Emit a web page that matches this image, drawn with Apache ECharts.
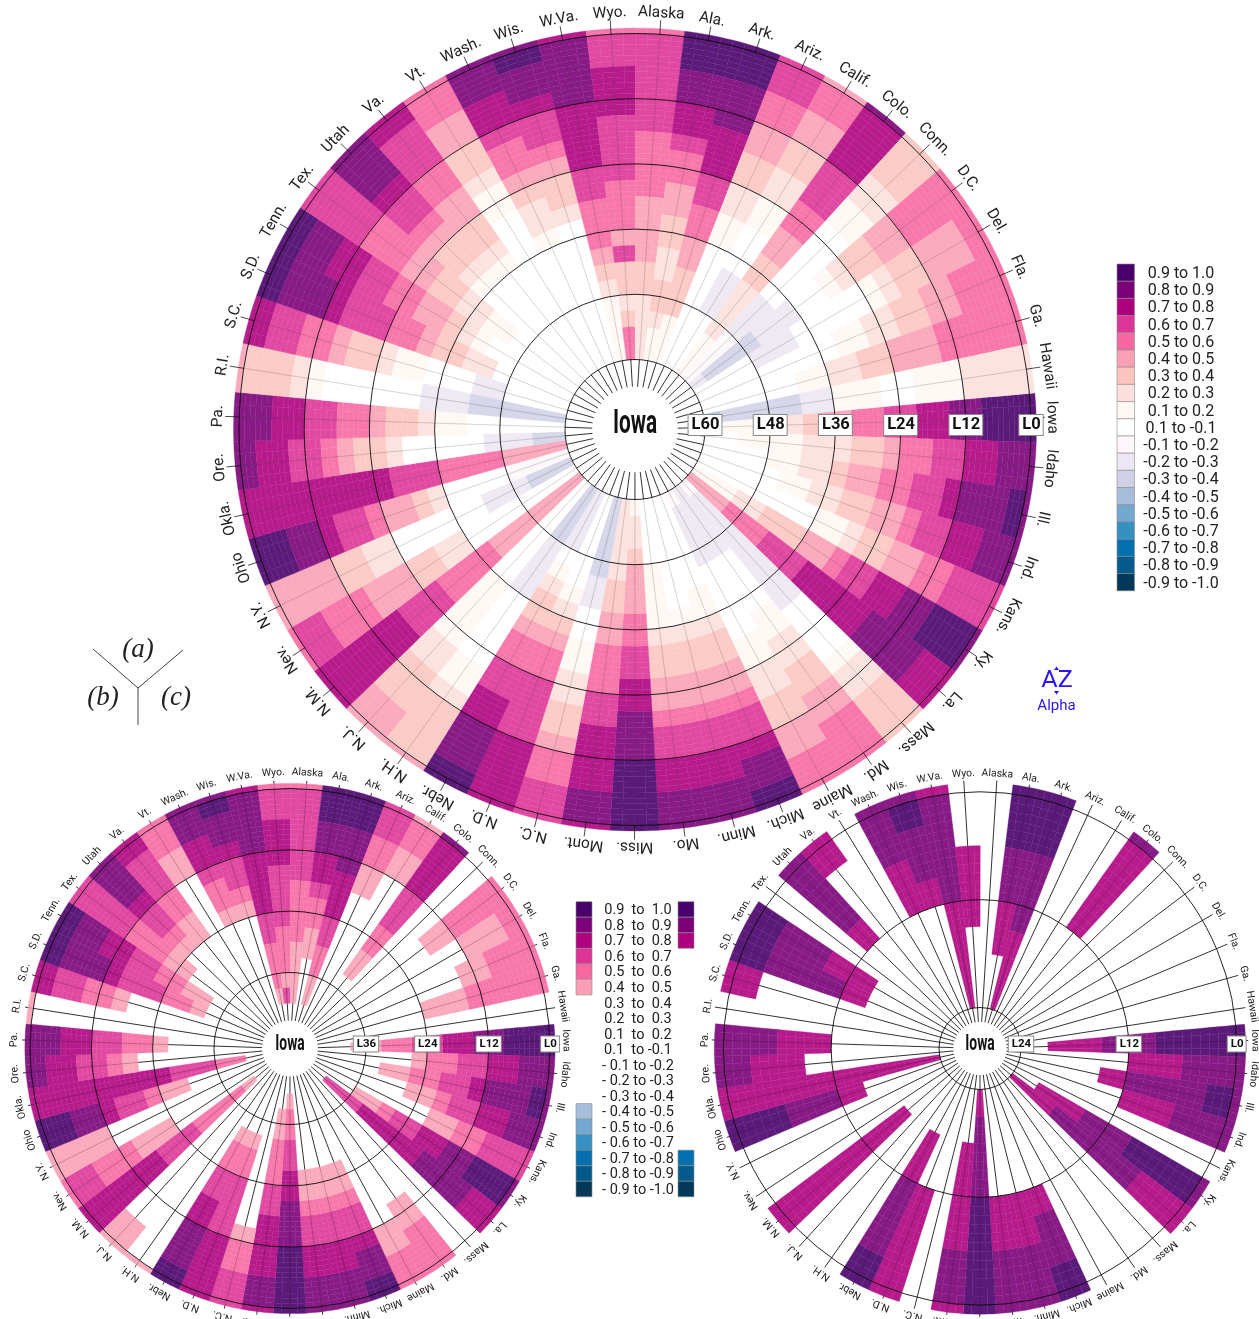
<!DOCTYPE html>
<html>
<head>
<meta charset="utf-8">
<title>Iowa</title>
<script src="https://cdn.jsdelivr.net/npm/echarts@6/dist/echarts.min.js"></script>
<style>
html, body { margin: 0; padding: 0; background: #fff; }
#chart { width: 1259px; height: 1319px; }
</style>
</head>
<body>
<div id="chart"></div>
<script>
const stateNames = ['Iowa', 'Idaho', 'Ill.', 'Ind.', 'Kans.', 'Ky.', 'La.', 'Mass.', 'Md.', 'Maine', 'Mich.', 'Minn.', 'Mo.',
  'Miss.', 'Mont.', 'N.C.', 'N.D.', 'Nebr.', 'N.H.', 'N.J.', 'N.M.', 'Nev.', 'N.Y.', 'Ohio', 'Okla.', 'Ore.', 'Pa.', 'R.I.',
  'S.C.', 'S.D.', 'Tenn.', 'Tex.', 'Utah', 'Va.', 'Vt.', 'Wash.', 'Wis.', 'W.Va.', 'Wyo.', 'Alaska', 'Ala.', 'Ark.', 'Ariz.',
  'Calif.', 'Colo.', 'Conn.', 'D.C.', 'Del.', 'Fla.', 'Ga.', 'Hawaii']

// first value is lag 0, then one value per 3 lags out to L60
const lagCorr = [
  [.95, .95, .95, .95, .85, .85, .75, .75, .65, .65, .55, .55, .45, .45, .35, .25, .15, .15, .15, .15, .15], // Iowa
  [.85, .85, .85, .75, .75, .65, .65, .55, .55, .45, .35, .35, .25, .25, .25, .15, .15, .15, .15, .05, .05], // Idaho
  [.85, .95, .85, .85, .85, .75, .65, .65, .55, .55, .45, .45, .35, .25, .25, .15, .15, .05, .05, .05, .05], // Ill.
  [.85, .85, .85, .75, .75, .65, .65, .55, .45, .45, .35, .35, .25, .25, .15, .15, .05, .05, .05, .05, .05], // Ind.
  [.65, .65, .65, .65, .55, .55, .45, .45, .35, .35, .25, .15, .15, .05, .05, .05, .05, .05, .05, .05, .05], // Kans.
  [.85, .95, .95, .95, .85, .85, .75, .75, .65, .65, .55, .45, .45, .35, .35, .35, .25, .25, .15, .15, .15], // Ky.
  [.75, .75, .75, .85, .85, .85, .85, .75, .75, .75, .75, .75, .65, .65, .65, .55, .55, .55, .45, .45, .45], // La.
  [.35, .35, .35, .35, .25, .25, .15, .05, .05, .05, .05, -.25, -.25, -.25, -.25, -.25, -.25, -.25, -.25, -.25, -.15], // Mass.
  [.55, .55, .55, .55, .45, .45, .35, .35, .25, .25, .15, .15, .05, .05, .05, .05, -.25, -.25, -.25, -.25, -.25], // Md.
  [.55, .55, .55, .45, .45, .35, .35, .25, .25, .15, .15, .05, .05, .05, .05, .05, -.25, -.25, -.25, -.25, -.15], // Maine
  [.95, .95, .85, .85, .75, .65, .65, .55, .45, .45, .35, .35, .25, .15, .15, .05, .05, .05, .05, .05, .05], // Mich.
  [.85, .85, .85, .75, .75, .65, .65, .55, .45, .45, .35, .35, .25, .15, .05, .05, .05, .05, .05, .05, .05], // Minn.
  [.85, .85, .85, .75, .75, .65, .65, .55, .45, .45, .35, .35, .25, .15, .15, .15, .15, .05, .05, .05, .05], // Mo.
  [.95, .95, .95, .95, .95, .85, .85, .85, .75, .75, .65, .65, .55, .55, .45, .45, .45, .35, .25, .25, .15], // Miss.
  [.75, .85, .85, .75, .75, .75, .75, .65, .65, .55, .55, .55, .45, .45, .35, .35, .25, .25, .25, .25, .25], // Mont.
  [.65, .65, .65, .55, .55, .45, .35, .35, .25, .25, .15, .15, .05, .05, -.25, -.25, -.35, -.35, -.35, -.35, -.35], // N.C.
  [.75, .75, .75, .75, .75, .65, .65, .65, .65, .55, .55, .45, .35, .25, .15, .05, .05, .05, .05, .05, .05], // N.D.
  [.95, .95, .85, .85, .85, .75, .75, .65, .65, .55, .55, .45, .35, .35, .25, .15, .05, -.25, -.25, -.25, -.25], // Nebr.
  [.45, .35, .35, .35, .35, .25, .15, .15, .05, .05, .05, .05, .05, -.25, -.25, -.25, -.25, -.35, -.35, -.35, -.35], // N.H.
  [.45, .45, .45, .35, .35, .35, .25, .25, .15, .15, .15, .15, .15, .05, .05, .05, .05, .05, .05, .05, .05], // N.J.
  [.75, .75, .75, .75, .75, .75, .75, .65, .65, .65, .55, .55, .55, .55, .45, .45, .45, .45, .45, .45, .45], // N.M.
  [.55, .65, .65, .55, .55, .55, .45, .45, .45, .35, .35, .25, .25, .05, .05, .05, .05, .05, .05, .05, .05], // Nev.
  [.45, .45, .45, .45, .45, .35, .35, .25, .25, .05, .05, .05, .05, .05, .05, -.25, -.25, -.25, -.35, -.35, -.35], // N.Y.
  [.95, .95, .95, .85, .85, .75, .65, .65, .55, .45, .45, .35, .25, .05, .05, .05, .05, -.15, -.15, -.15, -.15], // Ohio
  [.75, .75, .75, .75, .75, .75, .75, .75, .75, .75, .65, .65, .65, .55, .55, .55, .55, .45, .45, .45, .45], // Okla.
  [.85, .85, .75, .75, .65, .65, .55, .45, .35, .35, .25, .05, .05, .05, .05, .05, -.25, -.25, -.25, -.35, -.35], // Ore.
  [.85, .85, .85, .75, .75, .65, .65, .55, .55, .45, .35, .35, .25, .15, .15, .05, .05, .05, .05, .05, .05], // Pa.
  [.45, .35, .35, .35, .25, .15, .05, .05, .05, .05, .05, .05, -.25, -.25, -.25, -.35, -.35, -.35, -.35, -.35, -.35], // R.I.
  [.75, .75, .65, .65, .55, .55, .45, .35, .35, .25, .15, .15, .05, .05, .05, -.25, -.25, .05, .05, .05, .05], // S.C.
  [.95, .95, .85, .85, .85, .75, .65, .65, .65, .55, .55, .45, .35, .35, .25, .25, .05, .05, .05, .05, .05], // S.D.
  [.95, .95, .85, .85, .75, .75, .65, .65, .55, .55, .45, .45, .35, .25, .15, .05, .05, .05, .05, .05, .05], // Tenn.
  [.65, .65, .65, .65, .65, .55, .55, .55, .45, .45, .35, .35, .25, .25, .15, .15, .05, .05, .05, .05, .05], // Tex.
  [.85, .85, .85, .85, .75, .65, .65, .55, .45, .35, .35, .25, .15, .05, .05, .05, .05, .05, .05, .05, .05], // Utah
  [.75, .75, .65, .65, .65, .55, .55, .45, .45, .35, .35, .25, .15, .05, .05, .05, .05, .05, .05, .05, .05], // Va.
  [.55, .55, .55, .45, .45, .35, .35, .25, .15, .15, .05, .05, .05, .05, .05, .05, .05, .05, .05, .05, .05], // Vt.
  [.85, .85, .85, .75, .75, .65, .55, .55, .45, .35, .25, .25, .15, .05, .05, .05, .05, .05, .05, .05, .05], // Wash.
  [.85, .95, .85, .85, .75, .65, .65, .55, .45, .35, .35, .25, .05, .05, .05, .05, .05, .05, .05, .05, .05], // Wis.
  [.75, .85, .85, .85, .85, .75, .75, .75, .75, .65, .65, .55, .55, .55, .45, .35, .25, .15, .15, .15, .15], // W.Va.
  [.55, .65, .65, .75, .75, .75, .65, .65, .65, .65, .55, .55, .55, .45, .65, .35, .35, .25, .35, .55, .55], // Wyo.
  [.55, .65, .65, .65, .65, .65, .65, .55, .55, .55, .55, .45, .45, .45, .45, .35, .35, .25, .25, .25, .25], // Alaska
  [.95, .95, .95, .85, .85, .75, .75, .65, .55, .55, .45, .45, .35, .35, .25, .25, .35, .35, .25, .15, .15], // Ala.
  [.95, .95, .95, .85, .85, .85, .75, .75, .75, .65, .65, .55, .55, .45, .45, .35, .35, .35, .15, .15, .15], // Ark.
  [.65, .65, .65, .55, .55, .45, .45, .35, .35, .25, .25, .15, .15, .05, .05, .05, .05, .05, .05, .05, .05], // Ariz.
  [.45, .55, .55, .45, .45, .35, .35, .25, .25, .15, .15, .05, .05, .05, -.25, -.25, -.25, .05, .05, .05, .05], // Calif.
  [.85, .75, .75, .75, .75, .65, .65, .65, .55, .55, .45, .45, .35, .35, .25, .25, .25, .25, .15, .15, .15], // Colo.
  [.35, .35, .35, .35, .25, .25, .15, .15, .05, .05, .05, .05, .05, .05, -.25, -.25, -.25, -.15, -.15, -.15, -.15], // Conn.
  [.55, .55, .55, .55, .55, .45, .45, .35, .35, .25, .15, .05, .05, -.25, -.25, -.25, -.35, -.35, -.35, -.35, -.25], // D.C.
  [.55, .55, .45, .45, .45, .35, .35, .25, .15, .05, .05, .05, .05, .05, -.25, -.25, -.25, .05, .05, .05, .05], // Del.
  [.55, .55, .55, .55, .45, .45, .35, .35, .25, .25, .15, .15, .05, .05, .05, .05, .05, .05, .05, .05, .05], // Fla.
  [.55, .55, .55, .55, .55, .55, .45, .45, .45, .35, .35, .25, .25, .15, .15, .05, .05, .05, .05, .05, .05], // Ga.
  [.25, .25, .25, .25, .25, .15, .15, .15, .05, .05, .15, .15, .15, -.25, -.25, -.35, -.35, -.35, -.35, -.35, -.45] // Hawaii
]

const binColors = ['#49006a', '#7a0177', '#ae017e', '#dd3497', '#f768a1', '#fa9fb5', '#fcc5c0', '#fde0dd', '#fff7f3', '#ffffff',
  '#fff7fb', '#ece7f2', '#d0d1e6', '#a6bddb', '#74a9cf', '#3690c0', '#0570b0', '#045a8d', '#023858']
const binLabels = ['0.9 to 1.0', '0.8 to 0.9', '0.7 to 0.8', '0.6 to 0.7', '0.5 to 0.6', '0.4 to 0.5', '0.3 to 0.4', '0.2 to 0.3',
  '0.1 to 0.2', '0.1 to -0.1', '-0.1 to -0.2', '-0.2 to -0.3', '-0.3 to -0.4', '-0.4 to -0.5', '-0.5 to -0.6', '-0.6 to -0.7',
  '-0.7 to -0.8', '-0.8 to -0.9', '-0.9 to -1.0']
const smallLabels = ['0.9  to  1.0', '0.8  to  0.9', '0.7  to  0.8', '0.6  to  0.7', '0.5  to  0.6', '0.4  to  0.5', '0.3  to  0.4',
  '0.2  to  0.3', '0.1  to  0.2', '0.1  to -0.1', '- 0.1 to -0.2', '- 0.2 to -0.3', '- 0.3 to -0.4', '- 0.4 to -0.5', '- 0.5 to -0.6',
  '- 0.6 to -0.7', '- 0.7 to -0.8', '- 0.8 to -0.9', '- 0.9 to -1.0']

const labelFont = 'Roboto, sans-serif'

const binIndex = v => {
  if (v >= 0.1) return Math.floor((1 - v) * 10 + 1e-9)
  if (v > -0.1) return 9
  return 9 + Math.floor(-v * 10 + 1e-9)
}

// cells sit on the page at 90%, mixed here so neighbours can overlap by a hair
const cellColor = hex => {
  const n = parseInt(hex.slice(1), 16)
  const mix = c => Math.round(c * 0.9 + 255 * 0.1)
  return `rgb(${mix(n >> 16)},${mix((n >> 8) & 255)},${mix(n & 255)})`
}

// one entry per wheel: a is the reference, b keeps |r| >= .4 to L42, c keeps |r| >= .7 to L24
const wheels = [
  { cx: 635, cy: 429.5, inner: 70, outer: 396, maxTick: 60, maxLag: 60, minAbs: 0, hubLag: 65, leaderLag: -2.6, labelR: 417, labelSize: 15.5, tagSize: 16.5, titleSize: 33, spoke: 'rgba(0,0,0,0.17)', spokeOver: true },
  { cx: 290, cy: 1048.5, inner: 76, outer: 260, maxTick: 36, maxLag: 42, minAbs: 0.4, hubLag: 45.4, leaderLag: -1.6, labelR: 276, labelSize: 10.5, tagSize: 11.5, titleSize: 22, spoke: 'rgba(0,0,0,0.8)', spokeOver: false },
  { cx: 980, cy: 1048.5, inner: 41, outer: 256.7, maxTick: 24, maxLag: 24, minAbs: 0.7, hubLag: 25.6, leaderLag: -1.3, labelR: 275, labelSize: 10.5, tagSize: 11.5, titleSize: 22, spoke: 'rgba(0,0,0,0.8)', spokeOver: false }
]

const cellData = wheel => {
  const out = []
  lagCorr.forEach((row, state) => {
    row.forEach((v, block) => {
      if (3 * block <= wheel.maxLag && Math.abs(v) >= wheel.minAbs) out.push([state, block, v])
    })
  })
  return out
}

const renderCell = (params, api) => {
  const state = api.value(0)
  const block = api.value(1)
  const fill = cellColor(binColors[binIndex(api.value(2))])
  const cx = params.coordSys.cx
  const cy = params.coordSys.cy
  const from = block === 0 ? -1 : 3 * block - 3
  const to = block === 0 ? 0 : 3 * block
  const sub = 4
  const children = []
  for (let lag = from; lag < to; lag++) {
    for (let q = 0; q < sub; q++) {
      const p0 = api.coord([lag, state - 0.5 + q / sub])
      const p1 = api.coord([lag + 1, state - 0.5 + (q + 1) / sub])
      children.push({
        type: 'sector',
        silent: true,
        shape: { cx, cy, r: p0[2], r0: p1[2], startAngle: -p0[3], endAngle: -p1[3], clockwise: true },
        style: { fill, stroke: fill, lineWidth: 0.35 }
      })
    }
  }
  return { type: 'group', children }
}

const spokeLine = (api, s, a, b, stroke) => {
  const p = api.coord([a, s])
  const q = api.coord([b, s])
  return { type: 'line', silent: true, shape: { x1: p[0], y1: p[1], x2: q[0], y2: q[1] }, style: { stroke, lineWidth: 1 } }
}

const spokeSeries = (wheel, i) => ({
  type: 'custom',
  coordinateSystem: 'polar',
  polarIndex: i,
  clip: false,
  silent: true,
  z: wheel.spokeOver ? 3 : 1,
  data: stateNames.map((name, s) => [s]),
  renderItem: (params, api) => {
    const s = api.value(0)
    if (wheel.spokeOver) {
      return { type: 'group', children: [
        spokeLine(api, s, wheel.maxTick, 0, wheel.spoke),
        spokeLine(api, s, wheel.maxTick, wheel.hubLag, 'rgba(0,0,0,0.8)'),
        spokeLine(api, s, 0, wheel.leaderLag, 'rgba(0,0,0,0.7)')
      ] }
    }
    return spokeLine(api, s, wheel.hubLag, wheel.leaderLag, wheel.spoke)
  }
})

// the small wheels keep a faint trace of the spoke across their cells
const spokeTraceSeries = (wheel, i) => ({
  type: 'custom',
  coordinateSystem: 'polar',
  polarIndex: i,
  clip: false,
  silent: true,
  z: 3,
  data: cellData(wheel),
  renderItem: (params, api) => {
    const s = api.value(0)
    const block = api.value(1)
    if (block === 0) return spokeLine(api, s, -1, 0, 'rgba(0,0,0,0.16)')
    return spokeLine(api, s, 3 * block - 3, 3 * block, 'rgba(0,0,0,0.16)')
  }
})

const nameSeries = (wheel, i) => ({
  type: 'custom',
  coordinateSystem: 'polar',
  polarIndex: i,
  clip: false,
  silent: true,
  z: 6,
  data: stateNames.map((name, s) => [s]),
  renderItem: (params, api) => {
    const s = api.value(0)
    const p = api.coord([0, s])
    const th = p[3]
    return {
      type: 'text',
      silent: true,
      x: params.coordSys.cx + wheel.labelR * Math.cos(th),
      y: params.coordSys.cy - wheel.labelR * Math.sin(th),
      rotation: th - Math.PI / 2,
      style: { text: stateNames[s], font: `${wheel.labelSize}px ${labelFont}`, fill: '#222', align: 'center', verticalAlign: 'middle' }
    }
  }
})

const lagTicks = wheel => {
  const out = []
  for (let lag = wheel.maxTick; lag >= 0; lag -= 12) out.push([lag])
  return out
}

const tagSeries = (wheel, i) => ({
  type: 'custom',
  coordinateSystem: 'polar',
  polarIndex: i,
  clip: false,
  silent: true,
  z: 7,
  data: lagTicks(wheel),
  renderItem: (params, api) => {
    const lag = api.value(0)
    const p = api.coord([lag, 0])
    return {
      type: 'text',
      silent: true,
      x: params.coordSys.cx + p[2],
      y: params.coordSys.cy - 4.5,
      style: {
        text: 'L' + lag,
        font: `bold ${wheel.tagSize}px ${labelFont}`,
        fill: '#111',
        align: 'center',
        verticalAlign: 'middle',
        backgroundColor: '#fff',
        borderColor: '#888',
        borderWidth: 1,
        padding: [2, 2, 1, 3]
      }
    }
  }
})

const series = []
wheels.forEach((wheel, i) => {
  series.push(spokeSeries(wheel, i))
  series.push({
    type: 'custom',
    coordinateSystem: 'polar',
    polarIndex: i,
    clip: false,
    silent: true,
    z: 2,
    progressive: 0,
    data: cellData(wheel),
    renderItem: renderCell
  })
  if (!wheel.spokeOver) series.push(spokeTraceSeries(wheel, i))
  series.push(nameSeries(wheel, i))
  series.push(tagSeries(wheel, i))
})

const graphic = []
const swatch = (x, y, w, h, color) => graphic.push({
  type: 'rect', shape: { x, y, width: w, height: h }, style: { fill: color, stroke: '#8a8a8a', lineWidth: 0.6 }, silent: true
})
const label = (x, y, text, font, fill, extra) => graphic.push(Object.assign({
  type: 'text', x, y, style: { text, font, fill: fill || '#222', align: 'center', verticalAlign: 'middle' }, silent: true
}, extra || {}))

// main legend
binColors.forEach((c, i) => {
  swatch(1117, 264 + i * 17.2, 17.5, 17.2, c)
  label(1181, 274 + i * 17.2, binLabels[i], `16px ${labelFont}`)
})
// legend between the small wheels
binColors.forEach((c, i) => {
  const y = 901.7 + i * 15.53
  if (i < 6 || i > 12) swatch(576, y, 16, 15.53, c)
  if (i < 3 || i > 15) swatch(678, y, 16, 15.53, c)
  label(638, y + 9, smallLabels[i], `14.5px ${labelFont}`)
})
// centre names
wheels.forEach(w => {
  label(w.cx, w.cy - 4.5, 'Iowa', `bold ${w.titleSize}px ${labelFont}`, '#111', { scaleX: 0.63 })
})
// panel key
const keyLine = (x1, y1, x2, y2) => graphic.push({
  type: 'line', shape: { x1, y1, x2, y2 }, style: { stroke: '#444', lineWidth: 1 }, silent: true
})
keyLine(93, 649, 138, 688)
keyLine(183, 650, 138, 688)
keyLine(138, 688, 138, 725)
label(138, 650, '(a)', 'italic 27px "Liberation Serif", serif', '#222')
label(103, 698, '(b)', 'italic 27px "Liberation Serif", serif', '#222')
label(176, 698, '(c)', 'italic 27px "Liberation Serif", serif', '#222')
// alpha order icon
label(1057, 681, 'AZ', `24px ${labelFont}`, '#2a14ff', { scaleX: 1.05 })
label(1056.5, 706, 'Alpha', `15px ${labelFont}`, '#2a14ff')
graphic.push({ type: 'polygon', shape: { points: [[1054, 670], [1059, 670], [1056.5, 666.5]] }, style: { fill: '#2a14ff' }, silent: true })
graphic.push({ type: 'polygon', shape: { points: [[1054, 691], [1059, 691], [1056.5, 694.5]] }, style: { fill: '#2a14ff' }, silent: true })

const myChart = echarts.init(document.getElementById('chart'), null, { renderer: 'canvas' })
myChart.setOption({
  backgroundColor: '#fff',
  animation: false,
  polar: wheels.map(w => ({ center: [w.cx, w.cy], radius: [w.inner, w.outer] })),
  angleAxis: wheels.map((w, i) => ({
    polarIndex: i,
    type: 'value',
    min: 0,
    max: 51,
    interval: 51,
    startAngle: 1.7,
    axisLine: { show: false },
    axisTick: { show: false },
    axisLabel: { show: false },
    splitLine: { show: false }
  })),
  radiusAxis: wheels.map((w, i) => ({
    polarIndex: i,
    type: 'value',
    inverse: true,
    min: 0,
    max: w.maxTick,
    interval: 12,
    z: 5,
    axisLine: { show: false },
    axisTick: { show: false },
    axisLabel: { show: false },
    splitLine: { show: true, lineStyle: { color: 'rgba(0,0,0,0.85)', width: 1 } }
  })),
  graphic: { elements: graphic },
  series
})
</script>
</body>
</html>
